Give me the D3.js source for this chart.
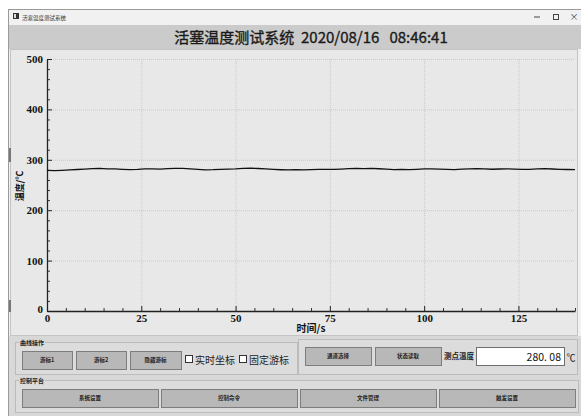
<!DOCTYPE html>
<html>
<head>
<meta charset="utf-8">
<script src="https://cdn.jsdelivr.net/npm/d3@7"></script>
<style>
body{margin:0;background:#fff;}
svg text{font-family:"Noto Sans CJK SC","Noto Sans",sans-serif;}
.tick text{font-family:"Liberation Serif",serif;font-weight:bold;font-size:11px;fill:#111;}
</style>
</head>
<body>
<svg id="win"></svg>
<script>
var times=[0,2,4,6,8,10,12,14,16,18,20,22,24,26,28,30,32,34,36,38,40,42,44,46,48,50,52,54,56,58,60,62,64,66,68,70,
  72,74,76,78,80,82,84,86,88,90,92,94,96,98,100,102,104,106,108,110,112,114,116,118,120,122,124,126,128,130,132,134,136,138,140];
var temps=[279.0,278.6,279.2,280.1,280.8,281.5,282.3,282.8,282.1,281.9,281.2,280.6,280.9,281.8,282.0,281.4,282.6,283.1,282.9,281.8,
  281.0,280.2,280.4,281.2,281.5,281.9,282.8,283.3,282.7,281.9,281.0,280.3,279.9,280.4,280.1,280.6,281.0,281.2,281.1,281.6,
  282.4,282.9,282.5,283.0,282.2,281.3,280.6,280.9,280.4,281.2,281.8,282.0,281.5,281.0,280.7,281.3,281.8,282.4,281.9,281.3,
  281.7,282.1,281.6,280.9,281.2,281.8,282.3,281.7,281.2,280.8,280.5];
var xTicks=[0,25,50,75,100,125];
var yTicks=[0,100,200,300,400,500];
var title="活塞温度测试系统  2020/08/16   08:46:41";
var winTitle="活塞温度测试系统";
var readout="280. 08";
var row1=["游标1","游标2","隐藏游标"];
var checks=["实时坐标","固定游标"];
var row1b=["通道选择","状态读取"];
var row2=["系统设置","控制命令","文件管理","触发设置"];

var W=581,H=416;
var svg=d3.select("#win").attr("width",W).attr("height",H);

// window frame
svg.append("rect").attr("x",8.5).attr("y",9.5).attr("width",580).attr("height",410)
   .attr("fill","#f1f1f1").attr("stroke","#9a9a9a");
svg.append("rect").attr("x",13).attr("y",13).attr("width",6).attr("height",6).attr("fill","#333");
svg.append("rect").attr("x",14).attr("y",14).attr("width",2).attr("height",4).attr("fill","#ddd");
svg.append("text").attr("x",22).attr("y",19.5).attr("font-size",5.5).attr("fill","#333").text(winTitle);
svg.append("line").attr("x1",534).attr("x2",540).attr("y1",17).attr("y2",17).attr("stroke","#444");
svg.append("rect").attr("x",553.5).attr("y",14.5).attr("width",5).attr("height",5).attr("fill","none").attr("stroke","#444");
svg.append("text").attr("x",574).attr("y",20).attr("font-size",9).attr("text-anchor","middle").attr("fill","#444").text("×");

// header band
svg.append("rect").attr("x",9).attr("y",25).attr("width",572).attr("height",24).attr("fill","#cbcbcb");
svg.append("text").attr("x",311).attr("y",43).attr("text-anchor","middle").attr("font-size",15)
   .attr("fill","#1a1a1a").attr("stroke","#1a1a1a").attr("stroke-width",0.35)
   .style("white-space","pre").text(title);

// chart area
svg.append("rect").attr("x",10.5).attr("y",49.5).attr("width",567).attr("height",286)
   .attr("fill","#e8e8e8").attr("stroke","#c4c4c4");
svg.append("rect").attr("x",9).attr("y",148).attr("width",2).attr("height",14).attr("fill","#777");
svg.append("rect").attr("x",9).attr("y",300).attr("width",2).attr("height",12).attr("fill","#777");

var x=d3.scaleLinear().domain([0,140]).range([47,575]);
var y=d3.scaleLinear().domain([0,500]).range([311,59]);

// grid
svg.append("g").selectAll("line").data(xTicks.slice(1)).join("line")
   .attr("x1",d=>x(d)+0.5).attr("x2",d=>x(d)+0.5).attr("y1",y(500)).attr("y2",y(0))
   .attr("stroke","#c9c9c9").attr("stroke-dasharray","1,1");
svg.append("g").selectAll("line").data(yTicks.slice(1)).join("line")
   .attr("y1",d=>y(d)+0.5).attr("y2",d=>y(d)+0.5).attr("x1",x(0)).attr("x2",x(140))
   .attr("stroke","#c9c9c9").attr("stroke-dasharray","1,1");

// minor ticks
var minorX=d3.range(5,141,5).filter(d=>d%25);
var minorY=d3.range(20,500,20).filter(d=>d%100);
svg.append("g").attr("transform","translate(0,"+y(0)+")")
   .call(d3.axisBottom(x).tickValues(minorX).tickSize(-3).tickFormat(""))
   .call(g=>g.select(".domain").remove()).selectAll("line").attr("stroke","#333");
svg.append("g").attr("transform","translate("+x(0)+",0)")
   .call(d3.axisLeft(y).tickValues(minorY).tickSize(-3).tickFormat(""))
   .call(g=>g.select(".domain").remove()).selectAll("line").attr("stroke","#333");

// axes
var xa=svg.append("g").attr("transform","translate(0,"+y(0)+")")
   .call(d3.axisBottom(x).tickValues(xTicks).tickSizeInner(-5).tickSizeOuter(0).tickPadding(2));
var ya=svg.append("g").attr("transform","translate("+x(0)+",0)")
   .call(d3.axisLeft(y).tickValues(yTicks).tickSizeInner(-5).tickSizeOuter(0).tickPadding(4));
[xa,ya].forEach(g=>{g.select(".domain").attr("stroke","#222").attr("stroke-width",1.3);g.selectAll(".tick line").attr("stroke","#222");});
xa.selectAll(".tick text").attr("dy","0.85em");
ya.selectAll(".tick text").filter(d=>d===0).attr("dy","0.1em");

svg.append("text").attr("x",311).attr("y",332).attr("text-anchor","middle").attr("font-size",10)
   .attr("font-weight","bold").attr("fill","#111").text("时间/s");
svg.append("text").attr("transform","translate(23,186) rotate(-90)").attr("text-anchor","middle")
   .attr("font-size",9).attr("font-weight","bold").attr("fill","#111").text("温度/℃");

// data line
var line=d3.line().x((d,i)=>x(times[i])).y(d=>y(d));
svg.append("path").datum(temps).attr("d",line).attr("fill","none").attr("stroke","#111").attr("stroke-width",1.3);

// bottom panel
svg.append("rect").attr("x",9).attr("y",336).attr("width",572).attr("height",80).attr("fill","#d8d8d8");
function group(x0,y0,w,h,label){
  svg.append("rect").attr("x",x0+0.5).attr("y",y0+0.5).attr("width",w).attr("height",h)
     .attr("fill","#dcdcdc").attr("stroke","#bcbcbc");
  if(label){
    svg.append("rect").attr("x",x0+4).attr("y",y0-3).attr("width",label.length*6+2).attr("height",6).attr("fill","#d8d8d8");
    svg.append("text").attr("x",x0+5).attr("y",y0+2.5).attr("font-size",6).attr("font-weight","bold").attr("fill","#222").text(label);
  }
}
group(15,342,282,32,"曲线操作");
group(298,339,279,35,null);
group(15,380,563,32,"控制平台");

function button(x0,y0,w,h,label){
  svg.append("rect").attr("x",x0+0.5).attr("y",y0+0.5).attr("width",w).attr("height",h)
     .attr("fill","#b8b8b8").attr("stroke","#7d7d7d");
  svg.append("text").attr("x",x0+w/2).attr("y",y0+h/2+2).attr("text-anchor","middle")
     .attr("font-size",5.5).attr("font-weight","bold").attr("fill","#222").text(label);
}
var b1x=[22,76,130],b1w=[50,50,51];
row1.forEach((l,i)=>button(b1x[i],351,b1w[i],18,l));
var cx=[185,239];
checks.forEach((l,i)=>{
  svg.append("rect").attr("x",cx[i]+0.5).attr("y",355.5).attr("width",7).attr("height",7).attr("fill","#fff").attr("stroke","#333");
  svg.append("text").attr("x",cx[i]+10).attr("y",363.5).attr("font-size",10).attr("fill","#222").text(l);
});
var b2x=[305,375];
row1b.forEach((l,i)=>button(b2x[i],347,66,18,l));
svg.append("text").attr("x",444).attr("y",359).attr("font-size",7.5).attr("font-weight","bold").attr("fill","#222").text("测点温度");
svg.append("rect").attr("x",476.5).attr("y",347.5).attr("width",88).attr("height",18).attr("fill","#fff").attr("stroke","#6e6e6e");
svg.append("text").attr("x",561).attr("y",360.5).attr("text-anchor","end").attr("font-size",10.5)
   .attr("font-family","Liberation Serif, serif").attr("fill","#111").text(readout);
svg.append("text").attr("x",571).attr("y",360.5).attr("text-anchor","middle").attr("font-size",9)
   .attr("font-family","Liberation Serif, serif").attr("fill","#111").text("℃");
var b3x=[22,161,300,439];
row2.forEach((l,i)=>button(b3x[i],389,136,18,l));
</script>
</body>
</html>
